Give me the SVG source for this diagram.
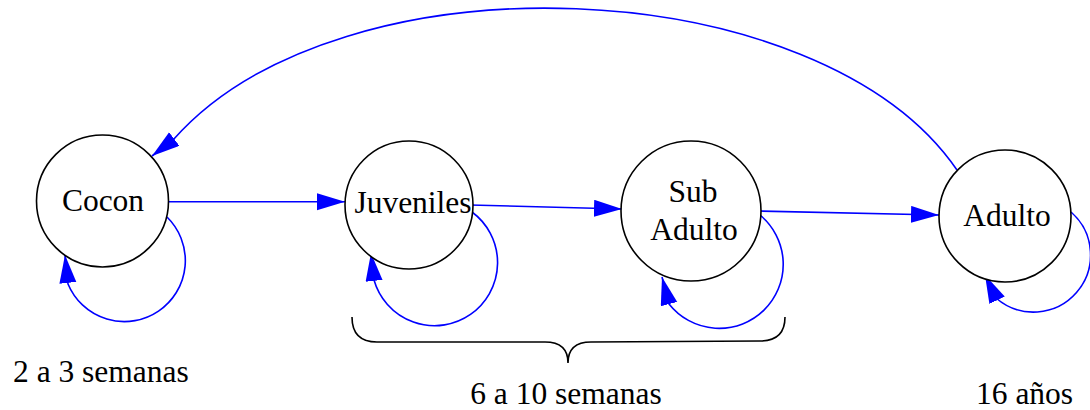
<svg xmlns="http://www.w3.org/2000/svg" width="1090" height="410" viewBox="0 0 1090 410">
<style>
.node circle{fill:#fff;stroke:#000;stroke-width:1.6}
.lbl{font-family:'Liberation Serif',Tinos,'Times New Roman',Times,'DejaVu Serif',serif;font-size:31.5px;fill:#000}
.edge{fill:none;stroke:#0000ff;stroke-width:1.6;marker-end:url(#ah)}
.brace{fill:none;stroke:#000;stroke-width:1.6}
</style>
<defs>
<marker id="ah" markerUnits="userSpaceOnUse" markerWidth="30" markerHeight="18" refX="28" refY="8.5" orient="auto" viewBox="0 0 30 18">
<path d="M0,0 L28,8.5 L0,17 Z" fill="#0000ff"/>
</marker>
</defs>
<g id="connectors">
<path class="edge" d="M957,170 C820,-30 340,-50 173,140 L152,156"/>
<path class="edge" d="M167,201.7 L345,201.7"/>
<path class="edge" d="M470,205 L622,209"/>
<path class="edge" d="M758,211 L939,215"/>
<path class="edge" d="M167,217 A61,61 0 1 1 68,284 L65,255"/>
<path class="edge" d="M472,212 A63,63 0 1 1 374,280 L371,253"/>
<path class="edge" d="M760,215 A64,64 0 1 1 669,304 L662,277"/>
<path class="edge" d="M1071,212 A57,57 0 1 1 996,298 L985,275"/>
</g>
<g id="cocon" class="node">
<circle cx="102.5" cy="201" r="66"/>
<text class="lbl" x="103" y="211" text-anchor="middle">Cocon</text>
</g>
<g id="juveniles" class="node">
<circle cx="409" cy="205" r="64"/>
<text class="lbl" x="413" y="213" text-anchor="middle">Juveniles</text>
</g>
<g id="subadulto" class="node">
<circle cx="691" cy="211" r="70"/>
<text class="lbl" x="693" y="202" text-anchor="middle">Sub</text>
<text class="lbl" x="694" y="240" text-anchor="middle">Adulto</text>
</g>
<g id="adulto" class="node">
<circle cx="1005" cy="216" r="66"/>
<text class="lbl" x="1007" y="226" text-anchor="middle">Adulto</text>
</g>
<g id="annotations">
<path class="brace" d="M352,317 Q352,342 377,342 L545,342 Q568,342 568,363 Q568,342 591,342 L760,341 Q785,341 785,317"/>
<text class="lbl" x="13" y="382">2 a 3 semanas</text>
<text class="lbl" x="566" y="404" text-anchor="middle">6 a 10 semanas</text>
<text class="lbl" x="976" y="404">16 años</text>
</g>
</svg>
